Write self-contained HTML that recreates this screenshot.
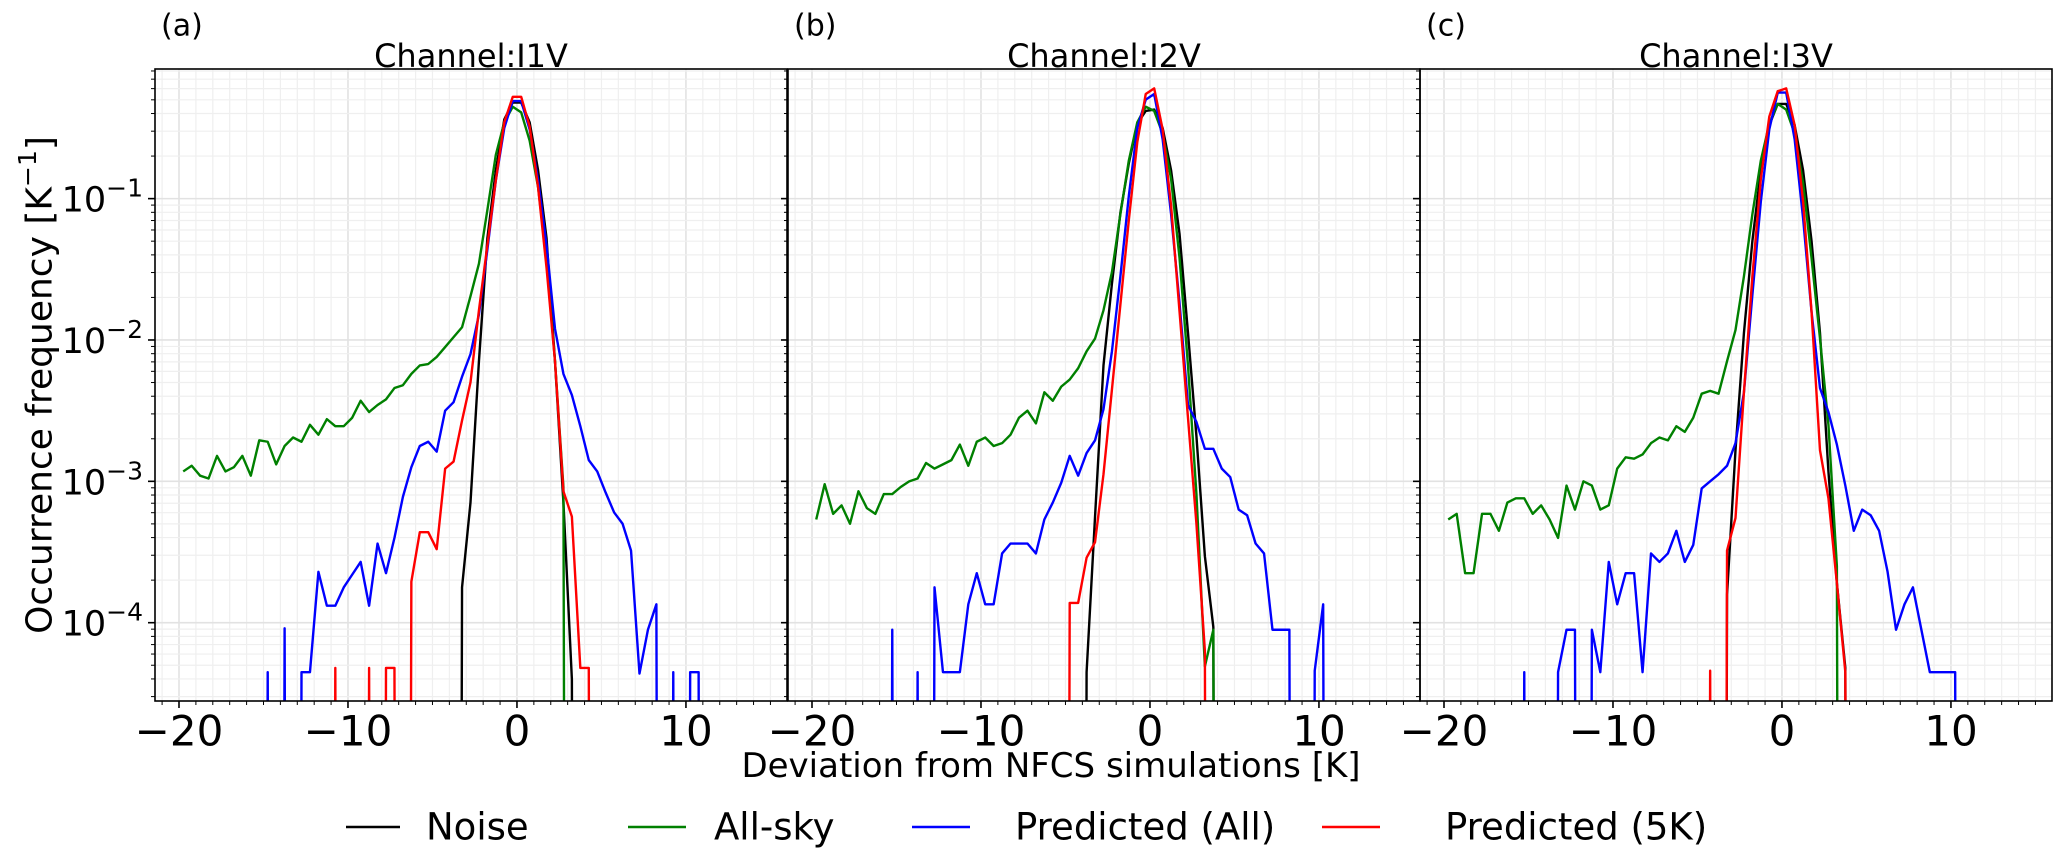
<!DOCTYPE html>
<html><head><meta charset="utf-8"><style>
html,body{margin:0;padding:0;background:#fff;overflow:hidden;width:2067px;height:859px;}
svg{display:block;font-family:"DejaVu Sans","Liberation Sans",sans-serif;}
</style></head><body>
<svg id="fig" width="2067" height="859" viewBox="0 0 2067 859" xmlns="http://www.w3.org/2000/svg" style="overflow:hidden">
<g id="grids"></g><g id="series"></g><g id="axes"></g>
<text x="40" y="385" font-size="36" text-anchor="middle" transform="rotate(-90 40 385)" dominant-baseline="central">Occurrence frequency [K<tspan dy="-13" font-size="25">−1</tspan><tspan dy="13">]</tspan></text>
<text x="1051" y="766" font-size="34" text-anchor="middle" dominant-baseline="central">Deviation from NFCS simulations [K]</text>
<g>
<g><line x1="346" y1="827" x2="400" y2="827" stroke="#000" stroke-width="2.6"/><text x="426" y="827" font-size="37" dominant-baseline="central">Noise</text></g>
<g><line x1="628" y1="827" x2="686" y2="827" stroke="#008000" stroke-width="2.6"/><text x="714" y="827" font-size="37" dominant-baseline="central">All-sky</text></g>
<g><line x1="912" y1="827" x2="970" y2="827" stroke="#0000ff" stroke-width="2.6"/><text x="1015" y="827" font-size="37" dominant-baseline="central">Predicted (All)</text></g>
<g><line x1="1322" y1="827" x2="1380" y2="827" stroke="#ff0000" stroke-width="2.6"/><text x="1445" y="827" font-size="37" dominant-baseline="central">Predicted (5K)</text></g>
</g>
</svg>
<script>
// ---- data (log10 of occurrence frequency; null = zero count) ----
const binWidth = 0.5;
const xTicks = [-20, -10, 0, 10];
const yTickExps = [-1, -2, -3, -4];
const panelTitles = ["Channel:I1V", "Channel:I2V", "Channel:I3V"];
const panelLetters = ["(a)", "(b)", "(c)"];

const a_noise_start = -3.75;
const a_noise = [null,-3.75,-3.15,-2.15,-1.28,-0.80,-0.44,-0.32,-0.32,-0.46,-0.80,-1.28,-2.15,-3.15,-4.4,null];
const a_allsky_start = -19.75;
const a_allsky = [-2.93,-2.89,-2.96,-2.98,-2.82,-2.93,-2.90,-2.82,-2.96,-2.71,-2.72,-2.88,-2.75,-2.69,-2.72,-2.60,-2.67,-2.56,-2.61,-2.61,-2.55,-2.43,-2.51,-2.46,-2.42,-2.34,-2.32,-2.24,-2.18,-2.17,-2.12,-2.05,-1.98,-1.91,-1.69,-1.46,-1.08,-0.69,-0.46,-0.35,-0.39,-0.59,-0.92,-1.43,-2.15,-3.04,null];
const a_predall_start = -15.25;
const a_predall = [null,-4.35,null,-4.04,null,-4.35,-4.35,-3.64,-3.88,-3.88,-3.75,-3.66,-3.57,-3.88,-3.44,-3.65,-3.40,-3.11,-2.90,-2.75,-2.72,-2.79,-2.50,-2.44,-2.26,-2.10,-1.82,-1.36,-0.87,-0.50,-0.31,-0.31,-0.51,-0.87,-1.33,-1.92,-2.24,-2.39,-2.61,-2.85,-2.93,-3.08,-3.22,-3.30,-3.49,-4.36,-4.05,-3.87,null,-4.35,null,-4.35,-4.35,null];
const a_pred5k_start = -11.25;
const a_pred5k = [null,-4.32,null,null,null,-4.32,null,-4.32,-4.32,null,-3.71,-3.36,-3.36,-3.48,-2.91,-2.86,-2.57,-2.30,-1.79,-1.33,-0.87,-0.46,-0.28,-0.28,-0.49,-0.92,-1.49,-2.15,-3.07,-3.25,-4.32,-4.32,null];

const b_noise_start = -4.25;
const b_noise = [null,-4.35,-3.25,-2.18,-1.60,-1.10,-0.75,-0.47,-0.38,-0.37,-0.50,-0.80,-1.25,-1.95,-2.68,-3.53,-4.03,null];
const b_allsky_start = -19.75;
const b_allsky = [-3.27,-3.02,-3.23,-3.17,-3.30,-3.07,-3.19,-3.23,-3.09,-3.09,-3.04,-3.00,-2.98,-2.87,-2.91,-2.88,-2.85,-2.74,-2.89,-2.72,-2.69,-2.75,-2.73,-2.67,-2.55,-2.50,-2.59,-2.37,-2.43,-2.33,-2.28,-2.20,-2.08,-1.99,-1.79,-1.52,-1.11,-0.73,-0.46,-0.35,-0.38,-0.54,-0.86,-1.42,-2.18,-3.09,-4.31,-4.05,null];
const b_predall_start = -15.75;
const b_predall = [null,-4.05,null,null,-4.35,null,-3.75,-4.35,-4.35,-4.35,-3.87,-3.65,-3.87,-3.87,-3.51,-3.44,-3.44,-3.44,-3.51,-3.27,-3.15,-3.01,-2.82,-2.96,-2.80,-2.71,-2.49,-2.08,-1.55,-0.98,-0.50,-0.30,-0.26,-0.58,-1.11,-1.74,-2.46,-2.58,-2.77,-2.77,-2.91,-2.97,-3.20,-3.24,-3.44,-3.51,-4.05,-4.05,-4.05,null,null,-4.34,-3.87,null];
const b_pred5k_start = -5.25;
const b_pred5k = [null,-3.86,-3.86,-3.54,-3.43,-2.95,-2.35,-1.75,-1.15,-0.60,-0.26,-0.22,-0.51,-1.05,-1.80,-2.55,-3.30,-4.20,null];

const c_noise_start = -3.75;
const c_noise = [null,-3.80,-2.78,-1.95,-1.30,-0.80,-0.48,-0.33,-0.33,-0.48,-0.80,-1.30,-1.95,-2.93,-3.72,-4.32,null];
const c_allsky_start = -19.75;
const c_allsky = [-3.27,-3.23,-3.65,-3.65,-3.23,-3.23,-3.35,-3.15,-3.12,-3.12,-3.23,-3.17,-3.27,-3.40,-3.03,-3.20,-3.00,-3.03,-3.20,-3.17,-2.91,-2.83,-2.84,-2.81,-2.73,-2.69,-2.71,-2.61,-2.65,-2.55,-2.38,-2.36,-2.38,-2.15,-1.93,-1.55,-1.11,-0.73,-0.47,-0.33,-0.37,-0.54,-0.89,-1.42,-1.99,-2.60,-3.60,null];
const c_predall_start = -15.75;
const c_predall = [null,-4.35,null,null,null,-4.35,-4.05,-4.05,null,-4.05,-4.35,-3.57,-3.87,-3.65,-3.65,-4.35,-3.51,-3.57,-3.51,-3.35,-3.57,-3.45,-3.05,-3.00,-2.95,-2.89,-2.73,-2.37,-1.68,-1.02,-0.51,-0.25,-0.25,-0.58,-1.14,-1.80,-2.34,-2.51,-2.74,-3.03,-3.35,-3.20,-3.24,-3.35,-3.64,-4.05,-3.87,-3.75,-4.05,-4.35,-4.35,-4.35,-4.35,null];
const c_pred5k_start = -4.75;
const c_pred5k = [null,-4.34,null,-3.49,-3.26,-2.37,-1.55,-0.86,-0.42,-0.24,-0.22,-0.48,-1.02,-1.80,-2.78,-3.12,-3.72,-4.35,null];

// ---- layout ----
const NS = "http://www.w3.org/2000/svg";
const panelLeft = [155, 788, 1420];
const PW = 632, TOP = 69, BOT = 701;
const XMIN = -21.42, XMAX = 15.98;
const YMIN = -4.554, YMAX = -0.083;
function xs(p, v){ return panelLeft[p] + (v - XMIN) / (XMAX - XMIN) * PW; }
function ys(lv){ return TOP + (YMAX - lv) / (YMAX - YMIN) * (BOT - TOP); }
function mk(tag, attrs, parent){ const e = document.createElementNS(NS, tag); for (const k in attrs) e.setAttribute(k, attrs[k]); parent.appendChild(e); return e; }

const grids = document.getElementById('grids');
const axes = document.getElementById('axes');
const series = document.getElementById('series');
const defs = mk('defs', {}, document.getElementById('fig'));

const panels = [
  [[a_noise_start,a_noise,'#000000','noise'],[a_allsky_start,a_allsky,'#008000','all-sky'],[a_predall_start,a_predall,'#0000ff','predicted-all'],[a_pred5k_start,a_pred5k,'#ff0000','predicted-5k']],
  [[b_noise_start,b_noise,'#000000','noise'],[b_allsky_start,b_allsky,'#008000','all-sky'],[b_predall_start,b_predall,'#0000ff','predicted-all'],[b_pred5k_start,b_pred5k,'#ff0000','predicted-5k']],
  [[c_noise_start,c_noise,'#000000','noise'],[c_allsky_start,c_allsky,'#008000','all-sky'],[c_predall_start,c_predall,'#0000ff','predicted-all'],[c_pred5k_start,c_pred5k,'#ff0000','predicted-5k']]
];
const letters = ['a','b','c'];

for (let p = 0; p < 3; p++) {
  const L = panelLeft[p], R = L + PW;
  const cp = mk('clipPath', {id: 'clip' + p}, defs);
  mk('rect', {x: L, y: TOP, width: PW, height: BOT - TOP}, cp);
  const gg = mk('g', {}, grids);
  
  
  for (let v = Math.ceil(XMIN); v <= XMAX; v++) {
    const x = xs(p, v);
    const major = v % 10 === 0;
    mk('line', {x1: x, x2: x, y1: TOP, y2: BOT, stroke: major ? '#e2e2e2' : '#efefef', 'stroke-width': major ? 1.6 : 1.2}, gg);
  }
  for (let e = -5; e <= 0; e++) {
    for (let m = 1; m <= 9; m++) {
      const lv = e + Math.log10(m);
      if (lv < YMIN || lv > YMAX) continue;
      const y = ys(lv);
      mk('line', {x1: L, x2: R, y1: y, y2: y, stroke: m === 1 ? '#e2e2e2' : '#efefef', 'stroke-width': m === 1 ? 1.6 : 1.2}, gg);
    }
  }
  const sg = mk('g', {'clip-path': 'url(#clip' + p + ')'}, series);
  
  
  for (const [start, vals, color, name] of panels[p]) {
    let d = '';
    vals.forEach((v, i) => {
      const x = xs(p, start + i * binWidth);
      const y = v === null ? BOT + 3000 : ys(v);
      d += (i === 0 ? 'M' : 'L') + x.toFixed(2) + ',' + y.toFixed(2);
    });
    const path = mk('path', {d: d, fill: 'none', stroke: color, 'stroke-width': 2.4, 'stroke-linejoin': 'round'}, sg);
    
    
  }
  const fr = mk('rect', {x: L, y: TOP, width: PW, height: BOT - TOP, fill: 'none', stroke: '#000', 'stroke-width': 1.6}, axes);
  
  
  for (let v = Math.ceil(XMIN); v <= XMAX; v++) {
    const x = xs(p, v);
    const major = v % 10 === 0;
    mk('line', {x1: x, x2: x, y1: BOT, y2: BOT + (major ? 7 : 4), stroke: '#000', 'stroke-width': major ? 1.6 : 1}, axes);
  }
  xTicks.forEach(v => {
    const t = mk('text', {x: xs(p, v), y: 731, 'font-size': 42, 'text-anchor': 'middle', 'dominant-baseline': 'central'}, axes);
    t.textContent = (v < 0 ? '\u2212' + Math.abs(v) : String(v));
    
    
  });
  for (let e = -5; e <= 0; e++) {
    for (let m = 1; m <= 9; m++) {
      const lv = e + Math.log10(m);
      if (lv < YMIN || lv > YMAX) continue;
      const y = ys(lv);
      mk('line', {x1: L - (m === 1 ? 7 : 4), x2: L, y1: y, y2: y, stroke: '#000', 'stroke-width': m === 1 ? 1.6 : 1}, axes);
    }
  }
  if (p === 0) {
    yTickExps.forEach(e => {
      const y = ys(e);
      const t = mk('text', {x: L - 12, y: y + 13, 'font-size': 35, 'text-anchor': 'end'}, axes);
      
      
      const a = mk('tspan', {}, t); a.textContent = '10';
      const b = mk('tspan', {dy: -15, 'font-size': 25}, t); b.textContent = '\u2212' + Math.abs(e);
    });
  }
  const title = mk('text', {x: L + PW / 2, y: 56, 'font-size': 32, 'text-anchor': 'middle', 'dominant-baseline': 'central'}, axes);
  title.textContent = panelTitles[p];
  
  
  const lt = mk('text', {x: L + 6, y: 26, 'font-size': 30, 'dominant-baseline': 'central'}, axes);
  lt.textContent = panelLetters[p];
  
  
}
</script>
</body></html>
